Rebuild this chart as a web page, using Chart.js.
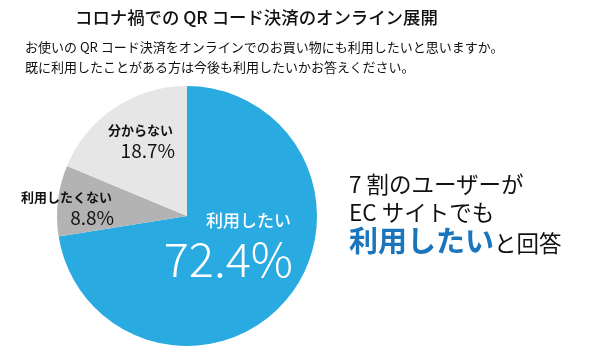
<!DOCTYPE html>
<html>
<head>
<meta charset="utf-8">
<script src="https://cdn.jsdelivr.net/npm/chart.js@4"></script>
<style>
  body { margin: 0; background: #fff; font-family: "Noto Sans CJK JP", sans-serif; color: #111; }
  #wrap { position: relative; width: 600px; height: 353px; overflow: hidden; }
  #pieChart { position: absolute; left: 0; top: 0; }
  .title { position: absolute; left: 75px; top: 4px; font-size: 17.4px; font-weight: 500; line-height: 26px; white-space: nowrap; }
  .sub { position: absolute; left: 25px; top: 37px; font-size: 13px; line-height: 20px; white-space: nowrap; }
  .note { position: absolute; left: 349px; top: 169px; font-size: 22.5px; line-height: 28px; white-space: nowrap; }
  .note b { color: #1b75bc; font-size: 29px; font-weight: bold; }
</style>
</head>
<body>
<div id="wrap">
  <canvas id="pieChart" width="600" height="353"></canvas>
  <div class="title">コロナ禍での QR コード決済のオンライン展開</div>
  <div class="sub">お使いの QR コード決済をオンラインでのお買い物にも利用したいと思いますか。<br>既に利用したことがある方は今後も利用したいかお答えください。</div>
  <div class="note">7 割のユーザーが<br>EC サイトでも<br><b>利用したい</b>と回答</div>
</div>
<script>
const answers = ['利用したい', '利用したくない', '分からない']
const shares = [72.4, 8.8, 18.7]
const sliceColors = ['#29abe2', '#b3b3b3', '#e6e6e6']

// where each label sits (right edge x, name baseline y, value baseline y)
const labelSpots = [
  { x: 291, y: 227, vy: 277, color: '#fff', nameFont: '500 17px "Noto Sans CJK JP"', valFont: '300 47px "Noto Sans CJK JP"' },
  { x: 112, y: 202, vy: 225, color: '#111', nameFont: 'bold 13px "Noto Sans CJK JP"', valFont: '400 19px "Noto Sans CJK JP"' },
  { x: 173, y: 135, vy: 158, color: '#111', nameFont: 'bold 13px "Noto Sans CJK JP"', valFont: '400 19px "Noto Sans CJK JP"' }
]

const sliceLabels = {
  id: 'sliceLabels',
  afterDatasetsDraw(chart) {
    const ctx = chart.ctx
    ctx.save()
    ctx.textAlign = 'right'
    ctx.textBaseline = 'alphabetic'
    answers.forEach((name, i) => {
      const s = labelSpots[i]
      ctx.fillStyle = s.color
      ctx.font = s.nameFont
      ctx.fillText(name, s.x, s.y)
      ctx.font = s.valFont
      ctx.fillText(shares[i].toFixed(1) + '%', s.x + 2, s.vy)
    })
    ctx.restore()
  }
}

var ctx = document.getElementById('pieChart').getContext('2d');
var myChart = new Chart(ctx, {
    type: 'pie',
    data: {
        labels: answers,
        datasets: [{
            data: shares,
            backgroundColor: sliceColors,
            borderWidth: 0
        }]
    },
    options: {
        responsive: false,
        animation: false,
        layout: {
            padding: { left: 57, right: 283, top: 86, bottom: 7 }
        },
        plugins: {
            legend: { display: false },
            tooltip: { enabled: false }
        }
    },
    plugins: [sliceLabels]
});
</script>
</body>
</html>
